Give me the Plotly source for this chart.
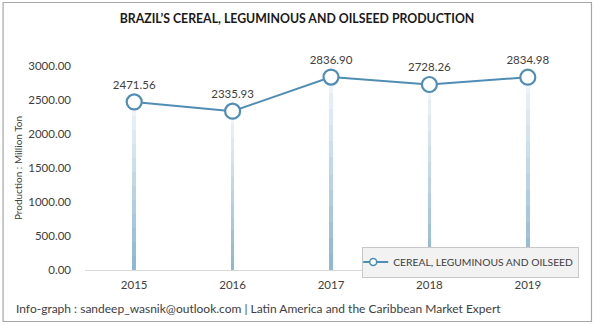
import plotly.graph_objects as go

years = ["2015", "2016", "2017", "2018", "2019"]
production = [2471.56, 2335.93, 2836.90, 2728.26, 2834.98]
series_name = "CEREAL, LEGUMINOUS AND OILSEED"
y_ticks = [0, 500, 1000, 1500, 2000, 2500, 3000]

FONT = "Lato, 'Open Sans', sans-serif"
L, R, T, B = 84.5, 18, 66, 55
W, H = 595, 325
pw, ph = W - L - R, H - T - B
LINE_COL = "#4f8db5"

fig = go.Figure()

# gradient drop lines: stacked thin bars, dark at bottom, light at top
n_seg = 12
c0 = (143, 184, 211)
c1 = (238, 244, 249)
for i in range(n_seg):
    t = i / (n_seg - 1)
    col = "rgb(%d,%d,%d)" % tuple(int(c0[k] + (c1[k] - c0[k]) * t) for k in range(3))
    fig.add_trace(go.Bar(
        x=years, y=[v / n_seg for v in production], width=0.035,
        marker=dict(color=col, line=dict(width=0)),
        showlegend=False, hoverinfo="skip"))

fig.add_trace(go.Scatter(
    x=years, y=production, mode="lines+markers+text", name=series_name,
    line=dict(color=LINE_COL, width=2),
    marker=dict(symbol="circle", size=15, color="white",
                line=dict(color=LINE_COL, width=2.2)),
    text=["%.2f" % v for v in production], textposition="top center",
    textfont=dict(family=FONT, size=11.5, color="#404040"),
    cliponaxis=False, showlegend=False))

# legend entry with small symbol (as in the reference legend)
fig.add_trace(go.Scatter(
    x=[None], y=[None], mode="lines+markers", name=series_name,
    line=dict(color=LINE_COL, width=2),
    marker=dict(symbol="circle", size=7, color="white",
                line=dict(color=LINE_COL, width=1.6)),
    showlegend=True))

def px(x):
    return (x - L) / pw

def py(y):
    return (H - B - y) / ph

fig.update_layout(
    width=W, height=H, barmode="stack", bargap=0,
    margin=dict(l=L, r=R, t=T, b=B, autoexpand=False),
    paper_bgcolor="white", plot_bgcolor="white",
    font=dict(family=FONT, color="#404040"),
    title=dict(text="<b>BRAZIL\u2019S CEREAL, LEGUMINOUS AND OILSEED PRODUCTION</b>",
               x=297 / W, xref="container", xanchor="center", y=1 - 19 / H,
               yref="container", yanchor="middle",
               font=dict(family=FONT, size=12.3, color="#1a1a1a")),
    xaxis=dict(type="category", showgrid=False, showline=True, linecolor="#d9d9d9",
               linewidth=1, ticks="", tickfont=dict(size=11.5, color="#404040"),
               ticklabelstandoff=4, automargin=False),
    yaxis=dict(range=[0, 3000], tickvals=y_ticks,
               ticktext=["%.2f" % v for v in y_ticks], showgrid=False,
               zeroline=False, showline=False, ticks="",
               tickfont=dict(size=11.5, color="#404040"), ticklabelstandoff=13,
               automargin=False,
               title=dict(text="Production : Million Ton", standoff=3,
                          font=dict(size=10, color="#404040"))),
    showlegend=True,
    legend=dict(x=px(362), y=py(262), xanchor="left", yanchor="middle",
                bgcolor="#f2f2f2", bordercolor="#c8c8c8", borderwidth=1,
                font=dict(size=10.3, color="#404040"), itemwidth=30,
                tracegroupgap=0, indentation=-10),
)

# outer border
fig.add_shape(type="rect", xref="paper", yref="paper",
              x0=px(2.5), x1=px(591.5), y0=py(321.5), y1=py(2.5),
              line=dict(color="#a6a6a6", width=1.2), layer="below")

fig.add_annotation(text="Info-graph : sandeep_wasnik@outlook.com | Latin America and the Caribbean Market Expert",
                   xref="paper", yref="paper", x=px(13), y=py(308), xanchor="left",
                   yanchor="middle", showarrow=False,
                   font=dict(family=FONT, size=12, color="#404040"))

fig.write_html("out.html")
